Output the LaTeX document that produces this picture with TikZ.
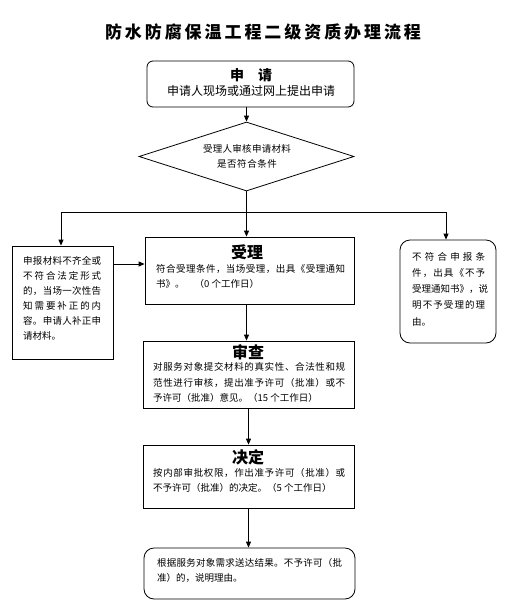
\documentclass[tikz,border=0pt]{standalone}
\usepackage{fontspec}
\setmainfont{Noto Sans CJK SC}
\usetikzlibrary{arrows.meta,shapes.geometric}
\ExplSyntaxOn
\NewDocumentCommand \sline { m m }
 {
  \hbox_to_wd:nn { #1 }
   {
    \bool_set_true:N \l_tmpa_bool
    \tl_map_inline:nn { #2 }
     {
      \bool_if:NTF \l_tmpa_bool
       { \bool_set_false:N \l_tmpa_bool }
       { \hfil }
      ##1
     }
   }
 }
\ExplSyntaxOff
\newcommand\bodyfont{\fontsize{9.5pt}{11pt}\selectfont}
\begin{document}
\begin{tikzpicture}[x=1pt,y=-1pt,
  box/.style={draw, line width=0.8pt, inner sep=0pt},
  dia/.style={draw, diamond, line width=0.8pt, inner sep=0pt},
  arr/.style={line width=0.8pt, -{Triangle[length=6pt,width=5pt]}},
  ln/.style={line width=0.8pt},
  txt/.style={inner sep=0pt, anchor=west, font=\bodyfont},
  ctxt/.style={inner sep=0pt, anchor=center, font=\bodyfont},
  head/.style={inner sep=0pt, anchor=center, font=\fontsize{16pt}{18pt}\selectfont\bfseries}]
\useasboundingbox (0,0) rectangle (509,614);
\fill[white] (0,0) rectangle (509,614);

% title
\node[inner sep=0pt, font=\fontsize{17pt}{20pt}\selectfont\bfseries] (title) at (263,32) {\sline{316pt}{防水防腐保温工程二级资质办理流程}};

% boxes
\node[box, rounded corners=6pt, minimum width=207pt, minimum height=46pt] (apply) at (250.5,84) {};
\node[dia, minimum width=215pt, minimum height=69pt] (check) at (246.5,156.5) {};
\node[box, minimum width=101pt, minimum height=113pt] (left) at (62.5,302.5) {};
\node[box, minimum width=209pt, minimum height=67pt] (accept) at (249.5,270.5) {};
\node[box, rounded corners=10pt, minimum width=96pt, minimum height=103pt] (right) at (448,291.5) {};
\node[box, minimum width=211pt, minimum height=67pt] (review) at (248.5,374.5) {};
\node[box, minimum width=211pt, minimum height=63pt] (decide) at (248.5,476.5) {};
\node[box, rounded corners=10pt, minimum width=211pt, minimum height=51pt] (final) at (249.5,573.5) {};

% texts: apply
\node[inner sep=0pt, font=\fontsize{14pt}{16pt}\selectfont\bfseries] (applyh) at (251,75) {申　请};
\node[inner sep=0pt, font=\fontsize{12pt}{14pt}\selectfont] (applyt) at (251,91) {申请人现场或通过网上提出申请};

% diamond
\node[ctxt] (check1) at (247,149) {\sline{88pt}{受理人审核申请材料}};
\node[ctxt] (check2) at (247,164) {\sline{60pt}{是否符合条件}};

% left box
\node[txt] (l1) at (23,261) {\sline{78pt}{申报材料不齐全或}};
\node[txt] (l2) at (23,276) {\sline{78pt}{不符合法定形式}};
\node[txt] (l3) at (23,291) {\sline{78pt}{的，当场一次性告}};
\node[txt] (l4) at (23,306) {\sline{78pt}{知需要补正的内}};
\node[txt] (l5) at (23,321) {\sline{78pt}{容。申请人补正申}};
\node[txt] (l6) at (23,336) {请材料。};

% right box
\node[txt] (r1) at (412,257) {\sline{73pt}{不符合申报条}};
\node[txt] (r2) at (412,273) {\sline{73pt}{件，出具《不予}};
\node[txt] (r3) at (412,289) {\sline{73pt}{受理通知书》，说}};
\node[txt] (r4) at (412,305) {\sline{73pt}{明不予受理的理}};
\node[txt] (r5) at (412,322) {由。};

% accept
\node[head] (accepth) at (247,252) {受理};
\node[txt] (a1) at (156,269) {\sline{189pt}{符合受理条件，当场受理，出具《受理通知}};
\node[txt] (a2) at (156,284) {书》。\hspace*{10pt}（0 个工作日）};

% review
\node[head] (reviewh) at (248,352) {审查};
\node[txt] (v1) at (153,367) {\sline{192pt}{对服务对象提交材料的真实性、合法性和规}};
\node[txt] (v2) at (153,383) {\sline{192pt}{范性进行审核，提出准予许可（批准）或不}};
\node[txt] (v3) at (153,398) {予许可（批准）意见。（15 个工作日）};

% decide
\node[head] (decideh) at (248,457) {决定};
\node[txt] (d1) at (153,473) {\sline{192pt}{按内部审批权限，作出准予许可（批准）或}};
\node[txt] (d2) at (153,488) {不予许可（批准）的决定。（5 个工作日）};

% final
\node[txt] (f1) at (157,563) {\sline{185pt}{根据服务对象需求送达结果。不予许可（批}};
\node[txt] (f2) at (157,578) {准）的，说明理由。};

% connectors
\coordinate (jn) at (246.5,212);
\coordinate (jl) at (61,212);
\coordinate (jr) at (446,212);
\coordinate (la) at (113,264);
\draw[arr] (apply.south -| check.north) -- (check.north);
\draw[ln] (check.south) -- (jn);
\draw[ln] (jl) -- (jr);
\draw[arr] (jn) -- (jn |- accept.north);
\draw[arr] (jl) -- (jl |- left.north);
\draw[arr] (jr) -- (jr |- right.north);
\draw[arr] (la) -- (la -| accept.west);
\draw[arr] (jn |- accept.south) -- (jn |- review.north);
\draw[arr] (review.south) -- (review.south |- decide.north);
\draw[arr] (decide.south) -- (decide.south |- final.north);
\end{tikzpicture}
\end{document}
